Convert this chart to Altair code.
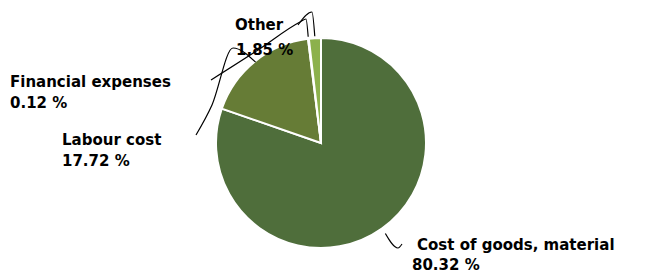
import math
import altair as alt
import pandas as pd

# ---- data ----
categories = ["Cost of goods, material", "Labour cost", "Financial expenses", "Other"]
shares = [80.32, 17.72, 0.12, 1.85]
pct_labels = ["80.32 %", "17.72 %", "0.12 %", "1.85 %"]
colors = ["#4f6e3b", "#667c36", "#7a9a45", "#8cb14c"]

# ---- layout (chart pixel coords) ----
W, H = 642, 267
CX, CY, R = 313, 135, 105
name_pos = {
    "Cost of goods, material": (409, 237),
    "Labour cost": (54, 132),
    "Financial expenses": (2, 74),
    "Other": (227, 17),
}
pct_pos = {
    "Cost of goods, material": (404, 257),
    "Labour cost": (54, 153),
    "Financial expenses": (2, 95),
    "Other": (228, 42),
}
# leader knots from the label side toward the slice, slice point added from angle
leader_knots = {
    "Cost of goods, material": [(394, 236), (390, 240)],
    "Labour cost": [(188, 127), (204, 97), (225, 40)],
    "Financial expenses": [(203, 72), (250, 42), (292, 14), (298, 11)],
    "Other": [(290, 17), (304, 4)],
}
leader_r = {"Cost of goods, material": 111, "Labour cost": 104,
            "Financial expenses": 107, "Other": 107}

total = sum(shares)
pie_df = pd.DataFrame({"cat": categories, "share": shares, "idx": list(range(len(categories)))})

# mid angles (clockwise from top)
mids = {}
acc = 0.0
for c, s in zip(categories, shares):
    a0 = acc / total * 360
    acc += s
    a1 = acc / total * 360
    mids[c] = (a0 + a1) / 2

line_rows = []
for c in categories:
    pts = list(leader_knots[c])
    a = math.radians(mids[c])
    r = leader_r[c]
    pts.append((CX + r * math.sin(a), CY - r * math.cos(a)))
    for i, (x, y) in enumerate(pts):
        line_rows.append({"cat": c, "ord": i, "x": x, "y": y})
line_df = pd.DataFrame(line_rows)

text_rows = []
for c, p in zip(categories, pct_labels):
    text_rows.append({"x": name_pos[c][0], "y": name_pos[c][1], "t": c})
    text_rows.append({"x": pct_pos[c][0], "y": pct_pos[c][1], "t": p})
text_df = pd.DataFrame(text_rows)

xs = alt.Scale(domain=[0, W], nice=False, zero=False)
ys = alt.Scale(domain=[0, H], nice=False, zero=False, reverse=True)

shadow = alt.Chart(pd.DataFrame({"v": [1]})).mark_arc(
    radius=R + 2, color="#e6e6e6"
).encode(theta=alt.Theta("v:Q"), x=alt.value(CX), y=alt.value(CY + 1))

pie = alt.Chart(pie_df).mark_arc(radius=R, stroke="white", strokeWidth=2).encode(
    theta=alt.Theta("share:Q", stack=True),
    color=alt.Color("cat:N", scale=alt.Scale(domain=categories, range=colors), legend=None),
    order=alt.Order("idx:Q"),
    x=alt.value(CX),
    y=alt.value(CY),
)

lines = alt.Chart(line_df).mark_line(color="black", strokeWidth=1.2, interpolate="monotone").encode(
    x=alt.X("x:Q", scale=xs, axis=None),
    y=alt.Y("y:Q", scale=ys, axis=None),
    detail="cat:N",
    order="ord:Q",
)

texts = alt.Chart(text_df).mark_text(
    align="left", baseline="middle", font="DejaVu Sans", fontSize=15, fontWeight="bold", color="black"
).encode(
    x=alt.X("x:Q", scale=xs, axis=None),
    y=alt.Y("y:Q", scale=ys, axis=None),
    text="t:N",
)

chart = alt.layer(shadow, pie, lines, texts).properties(
    width=W, height=H, padding=0, autosize=alt.AutoSizeParams(type="none"), background="white"
).configure_view(stroke=None)

chart.save("out.html", embed_options={"renderer": "svg", "actions": False})
